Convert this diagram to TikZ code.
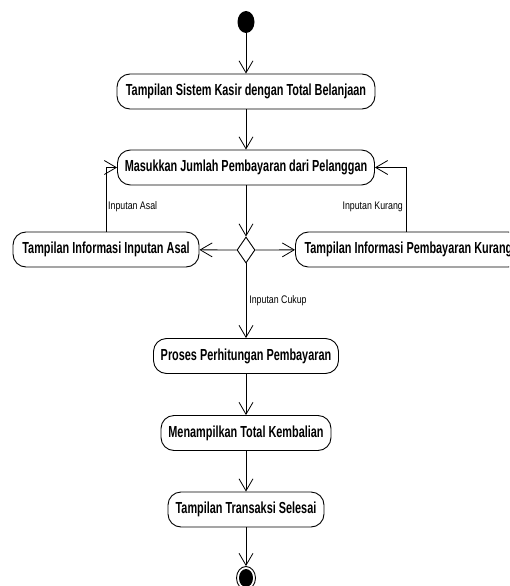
\documentclass[tikz,border=0pt]{standalone}
\usepackage{fontspec}
\setmainfont{Liberation Sans}
\newfontfamily\narrowfont[FakeStretch=0.68]{Liberation Sans}
\newfontfamily\labelfont[FakeStretch=0.8]{Liberation Sans}
\usetikzlibrary{arrows.meta,shapes.geometric}
\tikzset{
  act/.style={draw, line width=0.9pt, rounded corners=13pt, minimum height=35pt, inner sep=2pt, font=\narrowfont\bfseries\fontsize{16}{18}\selectfont},
  guard/.style={font=\labelfont\fontsize{11}{13}\selectfont, inner sep=1pt},
  flow/.style={draw, line width=0.8pt, -{Straight Barb[length=12pt,width=14pt,line width=0.8pt]}},
}
\begin{document}
\begin{tikzpicture}[x=1pt,y=-1pt]
\clip (0,0) rectangle (509,586);
\fill[white] (0,0) rectangle (509,586);
\node[ellipse, fill=black, minimum width=17pt, minimum height=22pt, inner sep=0pt] (start) at (246,22) {};
\node[act, minimum width=258pt] (a1) at (246,91.5) {Tampilan Sistem Kasir dengan Total Belanjaan};
\node[act, minimum width=257pt] (a2) at (246,167.5) {Masukkan Jumlah Pembayaran dari Pelanggan};
\node[diamond, draw, line width=0.9pt, minimum width=18pt, minimum height=26pt, inner sep=0pt, aspect=0.7] (dec) at (246,250) {};
\node[act, minimum width=186pt] (left) at (106,249.5) {Tampilan Informasi Inputan Asal};
\node[act, minimum width=226pt, anchor=west] (right) at (295,249.5) {Tampilan Informasi Pembayaran Kurang};
\node[act, minimum width=185pt] (a3) at (246,356) {Proses Perhitungan Pembayaran};
\node[act, minimum width=170pt] (a4) at (246,433) {Menampilkan Total Kembalian};
\node[act, minimum width=156pt] (a5) at (246,509.5) {Tampilan Transaksi Selesai};
\node[ellipse, draw, line width=0.9pt, minimum width=19pt, minimum height=23pt, inner sep=0pt] (end) at (246,578) {};
\node[ellipse, fill=black, minimum width=14pt, minimum height=18pt, inner sep=0pt] (endin) at (246,578) {};
\coordinate (rx) at (406,0);
\draw[flow] (start) -- (a1);
\draw[flow] (a1) -- (a2);
\draw[flow] (a2) -- (dec);
\draw[flow] (dec) -- (left);
\draw[flow] (dec) -- (right);
\draw[flow] (left.north) |- (a2.west);
\draw[flow] (right.north -| rx) |- (a2.east);
\draw[flow] (dec) -- node[guard, anchor=west, pos=0.5, xshift=2pt] (g3) {Inputan Cukup} (a3);
\node[guard, anchor=west] (g1) at (107,207) {Inputan Asal};
\node[guard, anchor=east] (g2) at (404,207) {Inputan Kurang};
\draw[flow] (a3) -- (a4);
\draw[flow] (a4) -- (a5);
\draw[flow] (a5) -- (end);
\end{tikzpicture}
\end{document}
